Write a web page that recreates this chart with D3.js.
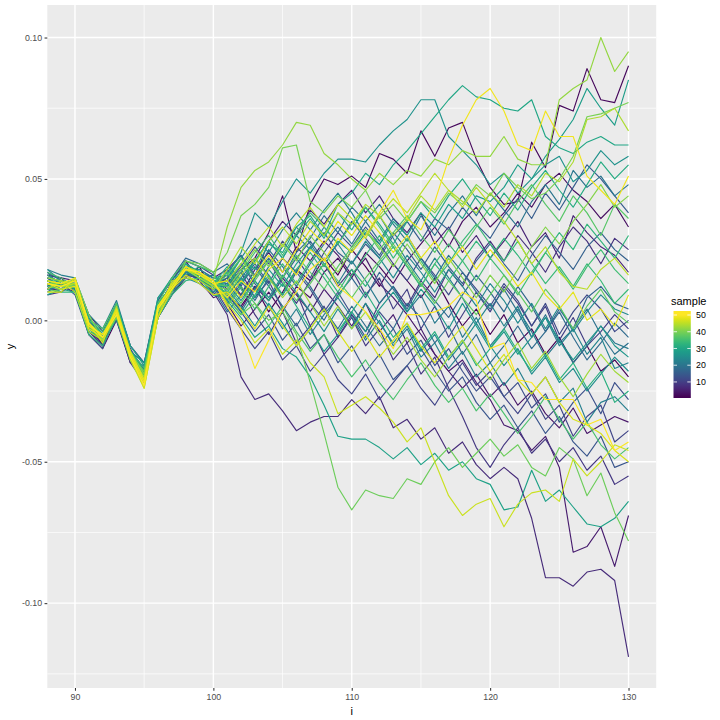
<!DOCTYPE html>
<html><head><meta charset="utf-8">
<script src="https://cdn.jsdelivr.net/npm/d3@7"></script>
<style>body{margin:0;background:#fff}svg{display:block}text{font-family:"Liberation Sans",Arial,Helvetica,sans-serif}</style>
</head><body><svg id="chart" width="720" height="720"></svg>
<script>
const iValues = [88,89,90,91,92,93,94,95,96,97,98,99,100,101,102,103,104,105,106,107,108,109,110,111,112,113,114,115,116,117,118,119,120,121,122,123,124,125,126,127,128,129,130];
const xTicks = [90,100,110,120,130];
const xMinor = [95,105,115,125];
const yTicks = [-0.1,-0.05,0,0.05,0.1];
const yMinor = [-0.125,-0.075,-0.025,0.025,0.075];
const legendTicks = [10,20,30,40,50];

const s1=[.016,.015,.010,-.005,-.010,0,-.015,-.017,.001,.009,.015,.019,.009,.008,.005,.012,.003,.010,.018,.014,.022,.016,.025,.019,.012,.020,.014,.008,.015,.006,-.002,.004,-.005,.002,-.008,-.003,-.012,-.006,-.015,-.009,-.018,-.014,-.020];
const s2=[.012,.014,.013,-.001,-.009,.004,-.011,-.020,.003,.011,.019,.015,.013,.012,.018,.022,.031,.044,.024,.041,.050,.048,.051,.047,.059,.057,.052,.067,.058,.068,.070,.057,.047,.041,.042,.063,.054,.076,.074,.089,.078,.077,.090];
const s3=[.015,.012,.010,-.002,-.007,.001,-.014,-.021,.002,.011,.016,.017,.014,.006,-.002,.004,.010,.003,.012,.008,.017,.022,.015,.024,.019,.013,.021,.027,.033,.026,.035,.040,.033,.038,.045,.040,.048,.052,.046,.042,.036,.041,.033];
const s4=[.011,.011,.012,-.004,-.008,.003,-.012,-.017,.005,.013,.018,.014,.012,.015,.009,.018,.024,.017,.026,.021,.028,.023,.016,.022,.013,.008,.002,-.005,-.012,-.018,-.024,-.019,-.027,-.022,-.030,-.025,-.033,-.038,-.031,-.040,-.037,-.034,-.036];
const s5=[.011,.015,.014,.002,-.004,.006,-.009,-.015,.007,.014,.021,.014,.008,.010,.004,.012,.007,.015,.009,.003,.011,.005,-.002,.006,-.004,.002,-.008,-.003,-.012,-.018,-.014,-.022,-.028,-.037,-.039,-.046,-.041,-.052,-.082,-.080,-.073,-.087,-.069];
const s6=[.016,.013,.011,-.003,-.006,.002,-.013,-.020,.004,.010,.017,.018,.015,.018,.023,.015,.028,.035,.030,.039,.034,.041,.046,.038,.044,.036,.031,.038,.027,.033,.024,.030,.022,.028,.035,.026,.031,.022,.037,.031,.026,.023,.017];
const s7=[.012,.010,.013,-.002,-.009,.004,-.011,-.019,.001,.011,.016,.015,.010,.002,-.020,-.028,-.026,-.032,-.039,-.036,-.034,-.034,-.028,-.033,-.027,-.038,-.035,-.042,-.038,-.047,-.043,-.051,-.056,-.052,-.056,-.070,-.091,-.091,-.094,-.089,-.088,-.092,-.119];
const s8=[.014,.012,.012,0,-.005,.003,-.012,-.018,.005,.012,.019,.017,.014,.005,.012,.002,-.005,.003,-.008,-.002,-.012,-.006,.002,-.004,.006,.012,.005,.014,.008,.018,.012,.022,.028,.021,.030,.024,.017,.026,.033,.028,.020,.029,.025];
const s9=[.009,.010,.015,-.004,-.009,.001,-.015,-.022,.002,.014,.021,.019,.016,.011,.017,.008,.014,.004,.010,-.002,.005,-.006,.001,-.009,-.003,-.014,-.008,-.019,-.013,-.024,-.034,-.045,-.052,-.044,-.038,-.047,-.042,-.050,-.045,-.053,-.048,-.058,-.055];
const s10=[.013,.012,.014,-.001,-.006,.004,-.011,-.017,.006,.012,.017,.015,.013,.016,.008,.015,.021,.013,.006,.014,.020,.012,.018,.009,.015,.004,.011,-.003,.005,-.006,.002,.010,.003,.012,.006,-.002,.005,-.007,.001,-.009,-.004,.002,-.003];
const s11=[.015,.014,.011,-.003,-.007,.003,-.013,-.019,.003,.011,.019,.016,.012,.004,-.003,-.010,-.004,-.014,-.009,-.018,-.012,-.021,-.026,-.019,-.028,-.022,-.016,-.024,-.030,-.022,-.015,-.023,-.018,-.027,-.033,-.026,-.035,-.030,-.041,-.034,-.030,-.043,-.039];
const s12=[.012,.013,.012,-.002,-.005,.005,-.012,-.020,.005,.013,.018,.017,.014,.013,.019,.026,.020,.028,.022,.015,.024,.031,.026,.033,.027,.020,.014,.022,.016,.009,.017,.011,.005,.013,.007,-.002,.006,-.005,.003,.009,.004,-.004,0];
const s13=[.014,.011,.013,-.001,-.006,.002,-.010,-.018,.004,.012,.017,.014,.011,.018,.012,.022,.016,.009,.017,.011,.003,.010,.002,-.006,.003,-.003,-.012,-.007,-.016,-.010,-.018,-.025,-.020,-.027,-.022,-.031,-.026,-.036,-.029,-.024,-.033,-.022,-.028];
const s14=[.010,.013,.009,-.005,-.010,.002,-.014,-.021,.001,.009,.016,.013,.009,.009,.003,-.004,.002,-.007,-.001,-.010,-.005,-.015,-.009,-.018,-.012,-.021,-.016,-.010,-.018,-.025,-.020,-.029,-.035,-.030,-.038,-.032,-.040,-.034,-.043,-.048,-.041,-.052,-.050];
const s15=[.013,.013,.014,0,-.006,.004,-.013,-.017,.005,.013,.019,.015,.012,.007,.014,.020,.013,.022,.017,.026,.031,.024,.020,.027,.022,.030,.035,.028,.036,.032,.040,.034,.029,.037,.043,.036,.045,.039,.047,.055,.050,.044,.038];
const s16=[.017,.014,.012,-.002,-.005,.003,-.011,-.018,.006,.012,.020,.017,.015,.014,.020,.013,.007,.015,.022,.028,.021,.027,.035,.029,.023,.031,.025,.018,.026,.019,.013,.021,.027,.020,.014,.023,.030,.024,.018,.026,.031,.025,.021];
const s17=[.012,.012,.013,-.003,-.006,.004,-.012,-.020,.004,.011,.017,.016,.012,.006,.013,.019,.012,.005,-.002,.006,0,.009,.015,.008,.017,.011,.004,.013,.007,.001,.009,.016,.010,.003,.012,.005,-.004,.004,-.003,.008,.012,.006,.004];
const s18=[.017,.012,.014,.001,-.008,0,-.014,-.016,.007,.015,.022,.020,.017,.020,.014,.007,.015,.009,.018,.012,.004,-.003,.005,-.002,-.009,-.003,.006,.001,-.008,-.002,-.012,-.005,-.015,-.009,-.002,-.010,-.004,.003,-.006,-.014,-.008,-.001,-.006];
const s19=[.013,.013,.011,-.002,-.005,.005,-.011,-.017,.005,.013,.019,.015,.011,.003,.009,.016,.022,.015,.024,.029,.037,.031,.040,.035,.028,.036,.030,.022,.015,.023,.017,.010,.004,.011,.003,-.006,.002,-.008,-.003,.004,-.005,-.012,-.008];
const s20=[.015,.012,.013,0,-.006,.003,-.012,-.018,.004,.011,.016,.016,.013,.017,.023,.016,.025,.019,.012,.020,.027,.033,.027,.035,.041,.034,.028,.037,.030,.038,.044,.037,.045,.039,.033,.042,.048,.041,.053,.047,.051,.044,.048];
const s21=[.011,.012,.012,-.002,-.007,.004,-.013,-.020,.003,.012,.018,.017,.012,.012,.018,.011,.019,.026,.033,.027,.020,.013,.021,.014,.006,.012,.003,.009,-.001,.005,-.006,.001,-.009,-.003,.004,-.004,-.013,-.007,-.015,-.009,-.002,-.008,-.010];
const s22=[.018,.016,.015,.002,-.003,.007,-.009,-.015,.008,.014,.020,.015,.016,.010,.003,.011,.005,-.003,.004,-.005,.002,.008,.001,-.007,0,-.009,-.003,-.013,-.008,-.017,-.011,-.020,-.015,-.023,-.017,-.026,-.020,-.029,-.024,-.036,-.029,-.027,-.032];
const s23=[.012,.013,.011,-.003,-.006,.003,-.012,-.019,.004,.012,.017,.015,.013,.015,.022,.029,.024,.032,.038,.032,.039,.045,.038,.030,.037,.029,.021,.014,.022,.015,.008,-.001,.006,-.002,.005,-.006,.001,-.009,-.003,-.012,-.006,-.017,-.015];
const s24=[.014,.012,.014,-.002,-.005,.002,-.011,-.018,.005,.011,.018,.017,.012,.009,.015,.021,.028,.022,.030,.025,.033,.027,.020,.028,.022,.015,.023,.017,.010,.018,.012,.005,.013,.007,-.001,.006,-.003,.005,-.004,.003,.009,.004,.002];
const s25=[.018,.014,.013,-.001,-.008,.005,-.011,-.015,.002,.010,.015,.013,.010,.013,.007,.014,.008,.016,.010,.003,-.004,.004,-.003,.006,-.001,-.008,-.002,-.011,-.005,-.014,-.008,-.001,-.009,-.016,-.010,-.019,-.013,-.022,-.017,-.025,-.019,-.013,-.018];
const s26=[.013,.011,.012,-.002,-.007,.003,-.013,-.020,.003,.013,.017,.018,.015,.016,.024,.038,.033,.042,.050,.045,.052,.057,.057,.056,.062,.067,.071,.078,.078,.065,.060,.055,.048,.052,.045,.050,.055,.058,.049,.053,.060,.055,.058];
const s27=[.012,.012,.013,-.001,-.005,.005,-.011,-.019,.005,.012,.018,.015,.012,.011,.005,-.002,.006,-.001,-.009,-.003,-.011,-.005,.003,-.004,.004,.010,.003,.011,.005,-.003,.006,-.002,-.010,-.004,-.012,-.006,.001,-.007,-.014,-.008,-.002,-.009,-.013];
const s28=[.015,.014,.011,-.003,-.006,.002,-.012,-.018,.004,.011,.019,.017,.014,.009,.015,.008,.018,.012,.020,.026,.019,.028,.024,.031,.027,.035,.030,.038,.033,.041,.036,.044,.042,.047,.055,.050,.058,.064,.071,.082,.075,.069,.085];
const s29=[.009,.011,.010,-.004,-.006,.006,-.009,-.016,.008,.015,.016,.019,.017,.007,.001,-.006,-.002,-.010,-.013,-.020,-.030,-.041,-.042,-.042,-.045,-.049,-.045,-.051,-.047,-.053,-.050,-.056,-.058,-.067,-.066,-.053,-.064,-.060,-.066,-.072,-.073,-.070,-.064];
const s30=[.014,.012,.013,.001,-.005,.003,-.012,-.019,.004,.012,.018,.015,.011,.014,.022,.018,.027,.024,.033,.037,.030,.041,.045,.052,.048,.055,.060,.066,.072,.078,.083,.079,.078,.075,.074,.078,.065,.061,.059,.063,.065,.062,.062];
const s31=[.013,.011,.012,-.002,-.006,.004,-.013,-.020,.003,.012,.020,.017,.013,.019,.013,.021,.028,.022,.030,.036,.029,.038,.032,.040,.034,.027,.035,.042,.036,.044,.050,.043,.037,.045,.039,.047,.053,.046,.040,.048,.056,.050,.055];
const s32=[.016,.013,.014,-.001,-.005,.003,-.011,-.018,.005,.013,.018,.016,.014,.012,.020,.014,.007,.013,.005,-.003,.004,-.004,.003,.010,.002,-.006,-.001,-.010,-.004,-.013,-.007,-.016,-.010,-.003,-.011,-.018,-.012,-.021,-.015,-.024,-.018,-.029,-.025];
const s33=[.011,.010,.010,-.005,-.009,.001,-.014,-.020,.001,.009,.014,.015,.009,.008,.002,.009,.016,.009,.018,.024,.017,.010,.018,.012,.020,.026,.019,.012,.020,.014,.021,.028,.022,.029,.023,.016,.024,.031,.025,.034,.028,.022,.030];
const s34=[.014,.014,.013,0,-.004,.005,-.011,-.017,.006,.012,.019,.015,.013,.017,.011,.004,.012,.020,.013,.021,.015,.008,.016,.023,.030,.022,.029,.021,.014,.020,.028,.034,.027,.021,.028,.020,.013,.019,.012,.020,.014,.006,.011];
const s35=[.013,.012,.012,-.002,-.006,.003,-.012,-.018,.004,.012,.018,.016,.012,.010,.017,.024,.030,.023,.031,.038,.033,.027,.034,.040,.033,.026,.019,.012,.020,.027,.021,.014,.022,.016,.009,.017,.024,.018,.011,.019,.025,.018,.013];
const s36=[.017,.015,.012,0,-.003,.006,-.012,-.019,.006,.015,.021,.019,.017,.005,.012,.006,-.002,.005,-.004,-.011,-.005,-.013,-.020,-.014,-.022,-.028,-.021,-.015,-.023,-.029,-.024,-.032,-.026,-.033,-.040,-.034,-.027,-.035,-.042,-.036,-.044,-.049,-.045];
const s37=[.012,.011,.013,-.002,-.006,.003,-.011,-.019,.005,.012,.019,.016,.013,.012,.006,.014,.021,.015,.023,.017,.011,.019,.026,.032,.025,.031,.037,.030,.024,.032,.026,.033,.040,.034,.042,.048,.041,.035,.044,.038,.030,.041,.036];
const s38=[.014,.012,.012,-.003,-.007,.002,-.012,-.021,.004,.011,.018,.015,.012,.016,.022,.015,.021,.014,.007,.013,.020,.014,.008,.015,.021,.027,.020,.013,.006,.014,.008,.002,.009,.016,.010,.003,.011,.005,-.003,.005,.011,.003,-.001];
const s39=[.013,.013,.014,-.001,-.005,.004,-.012,-.018,.005,.013,.018,.017,.013,.008,.002,.006,0,.003,-.005,-.022,-.040,-.059,-.067,-.060,-.062,-.063,-.056,-.058,-.050,-.045,-.052,-.047,-.042,-.048,-.044,-.052,-.055,-.045,-.049,-.062,-.054,-.068,-.078];
const s40=[.010,.011,.015,.002,-.007,.001,-.014,-.022,.002,.010,.021,.020,.017,.024,.037,.041,.047,.061,.062,.042,.038,.044,.040,.046,.036,.041,.035,.042,.038,.045,.041,.048,.044,.052,.047,.043,.045,.050,.058,.072,.073,.075,.077];
const s41=[.014,.013,.012,-.002,-.005,.004,-.011,-.019,.005,.012,.018,.016,.012,.011,.018,.025,.019,.027,.021,.030,.024,.017,.025,.032,.026,.019,.027,.020,.013,.022,.015,.008,.016,.010,.018,.026,.033,.027,.035,.041,.048,.040,.044];
const s42=[.013,.012,.014,-.001,-.006,.003,-.012,-.021,.003,.011,.019,.017,.014,.033,.047,.053,.056,.062,.070,.069,.059,.055,.050,.046,.052,.048,.053,.051,.057,.055,.060,.058,.058,.065,.057,.055,.055,.078,.082,.085,.100,.088,.095];
const s43=[.015,.014,.013,-.002,-.007,.002,-.012,-.020,.004,.012,.018,.015,.012,.009,.016,.022,.015,.008,.014,.006,-.002,.005,-.003,.003,-.005,-.012,-.006,-.014,-.020,-.013,-.007,-.015,-.021,-.014,-.008,-.017,-.011,-.020,-.027,-.019,-.012,-.018,-.022];
const s44=[.011,.014,.010,-.004,-.007,.005,-.014,-.024,.001,.014,.015,.014,.011,.018,.026,.020,.028,.033,.027,.035,.030,.038,.034,.041,.037,.030,.036,.044,.039,.046,.042,.038,.045,.040,.048,.044,.052,.049,.056,.071,.072,.075,.067];
const s45=[.013,.012,.013,-.002,-.005,.003,-.012,-.021,.005,.012,.019,.017,.013,.014,.020,.027,.033,.026,.034,.040,.033,.041,.036,.029,.037,.043,.038,.045,.052,.046,.040,.047,.041,.035,.028,.020,.026,.017,.012,.011,.018,.022,.016];
const s46=[.014,.013,.014,-.001,-.006,.002,-.013,-.022,.004,.011,.018,.016,.014,.006,0,-.008,-.003,-.012,-.007,-.015,-.020,-.033,-.030,-.027,-.031,-.036,-.043,-.038,-.050,-.062,-.069,-.065,-.063,-.073,-.065,-.061,-.060,-.064,-.049,-.055,-.050,-.044,-.046];
const s47=[.010,.010,.015,-.001,-.008,.004,-.013,-.024,.001,.011,.016,.013,.009,.010,.004,-.003,.005,-.002,-.009,-.003,.004,-.004,-.011,-.005,-.013,-.007,-.001,-.009,-.015,-.008,-.002,-.010,-.018,-.012,-.021,-.026,-.020,-.029,-.035,-.037,-.040,-.046,-.050];
const s48=[.013,.011,.012,-.003,-.006,.004,-.011,-.021,.004,.013,.018,.017,.013,.014,.008,.016,.023,.017,.025,.032,.027,.035,.030,.037,.031,.024,.030,.022,.028,.020,.026,.018,.025,.019,.012,.017,.009,.004,.010,0,.004,-.002,.009];
const s49=[.014,.013,.015,-.002,-.005,.003,-.012,-.022,.005,.012,.019,.016,.013,.008,.014,.010,.018,.022,.016,.025,.021,.029,.024,.030,.038,.046,.036,.032,.042,.057,.069,.078,.082,.074,.062,.060,.074,.065,.065,.051,.046,.041,.051];
const s50=[.013,.012,.014,-.001,-.006,.002,-.013,-.023,.004,.011,.018,.017,.014,.005,-.003,-.017,-.007,.004,.010,.018,.022,.012,.008,.003,-.003,-.010,.002,.002,.003,.005,.010,.007,-.010,-.008,-.021,-.022,-.028,-.028,-.028,-.037,-.035,-.046,-.043];

const samples = [s1,s2,s3,s4,s5,s6,s7,s8,s9,s10,s11,s12,s13,s14,s15,s16,s17,s18,s19,s20,s21,s22,s23,s24,s25,s26,s27,s28,s29,s30,s31,s32,s33,s34,s35,s36,s37,s38,s39,s40,s41,s42,s43,s44,s45,s46,s47,s48,s49,s50];

const svg = d3.select("#chart");
const P = {l:47.3, r:656.2, t:5, b:688};
const x = d3.scaleLinear().domain([88,132]).range([P.l,P.r]);
const y = d3.scaleLinear().domain([-0.13,0.1115]).range([P.b,P.t]);
const color = d3.scaleSequential(d3.interpolateViridis).domain([1,50]);

svg.append("rect").attr("width",720).attr("height",720).attr("fill","#fff");
svg.append("rect").attr("x",P.l).attr("y",P.t).attr("width",P.r-P.l).attr("height",P.b-P.t).attr("fill","#EBEBEB");

const grid = svg.append("g");
yMinor.forEach(v=>grid.append("line").attr("x1",P.l).attr("x2",P.r).attr("y1",y(v)).attr("y2",y(v)).attr("stroke","#fff").attr("stroke-width",0.7));
xMinor.forEach(v=>grid.append("line").attr("y1",P.t).attr("y2",P.b).attr("x1",x(v)).attr("x2",x(v)).attr("stroke","#fff").attr("stroke-width",0.7));
yTicks.forEach(v=>grid.append("line").attr("x1",P.l).attr("x2",P.r).attr("y1",y(v)).attr("y2",y(v)).attr("stroke","#fff").attr("stroke-width",1.4));
xTicks.forEach(v=>grid.append("line").attr("y1",P.t).attr("y2",P.b).attr("x1",x(v)).attr("x2",x(v)).attr("stroke","#fff").attr("stroke-width",1.4));

svg.append("clipPath").attr("id","clip").append("rect").attr("x",P.l).attr("y",P.t).attr("width",P.r-P.l).attr("height",P.b-P.t);
const line = d3.line().x((d,k)=>x(iValues[k])).y(d=>y(d));
svg.append("g").attr("clip-path","url(#clip)")
  .selectAll("path").data(samples).join("path")
  .attr("d",d=>line(d)).attr("fill","none")
  .attr("stroke",(d,k)=>color(k+1)).attr("stroke-width",1.15)
  .attr("stroke-linejoin","round");

// axes
const xAxis = svg.append("g").attr("transform",`translate(0,${P.b})`)
  .call(d3.axisBottom(x).tickValues(xTicks).tickSize(2.75).tickPadding(3).tickFormat(d3.format("d")));
const yAxis = svg.append("g").attr("transform",`translate(${P.l},0)`)
  .call(d3.axisLeft(y).tickValues(yTicks).tickSize(2.75).tickPadding(2.5).tickFormat(d=>d.toFixed(2)));
[xAxis,yAxis].forEach(a=>{
  a.select(".domain").remove();
  a.selectAll(".tick line").attr("stroke","#333333").attr("stroke-width",1.05);
  a.selectAll(".tick text").attr("fill","#4D4D4D").attr("font-size","8.8px").attr("font-family",'"Liberation Sans",Arial,sans-serif');
});

svg.append("text").attr("x",(P.l+P.r)/2).attr("y",715).attr("text-anchor","middle").attr("font-size","11px").attr("fill","#000").text("i");
svg.append("text").attr("transform",`translate(13.5,${(P.t+P.b)/2}) rotate(-90)`).attr("text-anchor","middle").attr("font-size","11px").attr("fill","#000").text("y");

// legend
const lg = svg.append("g");
const yL = d3.scaleLinear().domain([1,50]).range([397,315]);
const grad = svg.append("defs").append("linearGradient").attr("id","vir")
  .attr("gradientUnits","userSpaceOnUse").attr("x1",0).attr("x2",0).attr("y1",yL(1)).attr("y2",yL(50));
d3.range(0,1.0001,0.05).forEach(t=>grad.append("stop").attr("offset",t).attr("stop-color",d3.interpolateViridis(t)));
lg.append("text").attr("x",671).attr("y",305).attr("font-size","11px").attr("fill","#000").text("sample");
lg.append("rect").attr("x",673.5).attr("y",311).attr("width",17.3).attr("height",87).attr("fill","url(#vir)");
legendTicks.forEach(v=>{
  lg.append("line").attr("x1",673.5).attr("x2",677).attr("y1",yL(v)).attr("y2",yL(v)).attr("stroke","#fff").attr("stroke-width",0.8);
  lg.append("line").attr("x1",687.3).attr("x2",690.8).attr("y1",yL(v)).attr("y2",yL(v)).attr("stroke","#fff").attr("stroke-width",0.8);
  lg.append("text").attr("x",696).attr("y",yL(v)+3.1).attr("font-size","8.8px").attr("fill","#000").text(v);
});
</script></body></html>
